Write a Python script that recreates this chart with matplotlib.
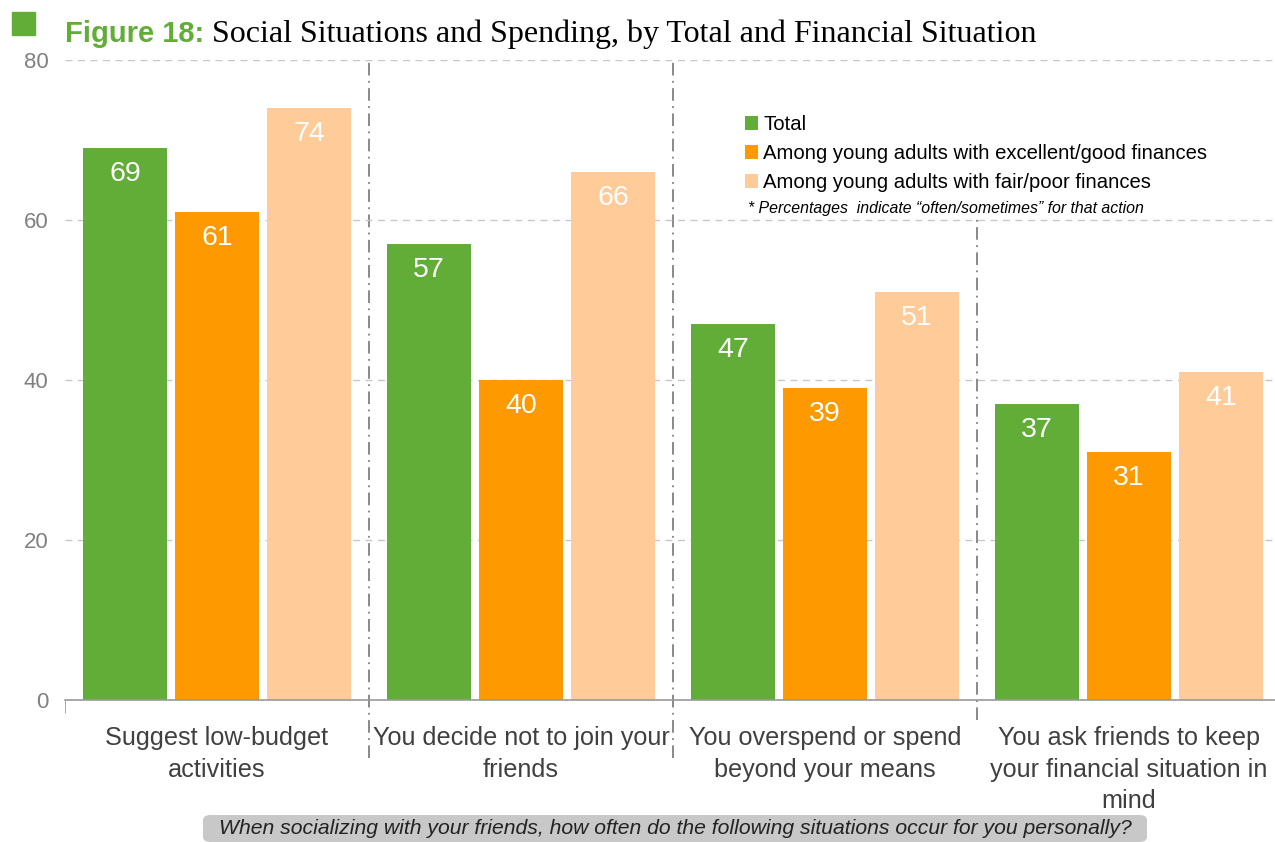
import matplotlib.pyplot as plt
import numpy as np
from matplotlib.patches import FancyBboxPatch

# data
categories = ["Suggest low-budget\nactivities",
              "You decide not to join your\nfriends",
              "You overspend or spend\nbeyond your means",
              "You ask friends to keep\nyour financial situation in\nmind"]
total = [69, 57, 47, 37]
good_fin = [61, 40, 39, 31]
poor_fin = [74, 66, 51, 41]
series_names = ["Total",
                "Among young adults with excellent/good finances",
                "Among young adults with fair/poor finances"]
colors = ["#62ad38", "#ff9900", "#ffcc99"]

fig = plt.figure(figsize=(12.75, 8.42), dpi=100)
W, H = 1275, 842
ax = fig.add_axes([65 / W, 1 - 700 / H, (1275 - 65) / W, 640 / H])

x = np.arange(len(categories))
bw = 0.277
off = 0.303
bars = []
for i, (vals, c) in enumerate(zip([total, good_fin, poor_fin], colors)):
    b = ax.bar(x + (i - 1) * off, vals, bw, color=c, label=series_names[i], zorder=2)
    bars.append(b)
    for xi, v in zip(x + (i - 1) * off, vals):
        ax.text(xi, v - 3.3, str(v), ha="center", va="center", color="white",
                fontsize=20.5, family="Liberation Sans", zorder=3)

ax.set_ylim(0, 80)
ax.set_xlim(-0.5, 3.48)
ax.set_yticks([0, 20, 40, 60, 80])
ax.yaxis.grid(True, color="#c8c8c8", linestyle=(0, (5, 4)), linewidth=1, zorder=0)
ax.tick_params(axis="y", length=0, labelsize=16, labelcolor="#808080", pad=12)
for lab in ax.get_yticklabels():
    lab.set_family("Liberation Sans")

ax.set_xticks(x)
ax.set_xticklabels(categories, fontsize=18.2, color="#404040", family="Liberation Sans",
                   linespacing=1.38)
ax.tick_params(axis="x", length=0, pad=19)
ax.set_xticks([-0.5], minor=True)
ax.tick_params(axis="x", which="minor", length=9, color="#999999", direction="out")

for s in ["top", "right", "left"]:
    ax.spines[s].set_visible(False)
ax.spines["bottom"].set_color("#999999")
ax.spines["bottom"].set_linewidth(1.2)

# dash-dot group separators
for xs, y0, y1 in [(0.5, -7.3, 80), (1.5, -7.3, 80), (2.5, -2.5, 60.2)]:
    ax.plot([xs, xs], [y0, y1], color="#808080", linestyle=(0, (7, 3, 1, 3)),
            linewidth=1.3, clip_on=False, zorder=1)

# legend
leg = fig.legend(handles=bars, labels=series_names, loc="upper left",
                 bbox_to_anchor=(745 / W, 1 - 115 / H), frameon=False,
                 prop={"family": "Liberation Sans", "size": 14.6},
                 handlelength=0.65, handleheight=0.65, handletextpad=0.25,
                 labelspacing=0.5, borderaxespad=0, borderpad=0)
fig.text(748 / W, 1 - 208 / H, "* Percentages  indicate \u201coften/sometimes\u201d for that action",
         fontsize=11.4, style="italic", family="Liberation Sans", va="center")

# title
fig.patches.append(plt.Rectangle((12 / W, 1 - 35 / H), 23 / W, 23 / H,
                                 transform=fig.transFigure, color="#62ad38"))
t1 = fig.text(65 / W, 1 - 42 / H, "Figure 18: ", fontsize=21, weight="bold",
              color="#62ad38", family="Liberation Sans", va="baseline")
fig.canvas.draw()
bb = t1.get_window_extent()
fig.text(bb.x1 / W, 1 - 42 / H, "Social Situations and Spending, by Total and Financial Situation",
         fontsize=23, color="black", family="Liberation Serif", va="baseline")

# bottom caption box
fig.patches.append(FancyBboxPatch((203 / W, 1 - 842 / H), (1147 - 203) / W, 27 / H,
                                  boxstyle="round,pad=0,rounding_size=0.006",
                                  transform=fig.transFigure, facecolor="#c8c8c8",
                                  edgecolor="none"))
fig.text(675 / W, 1 - 829 / H,
         "When socializing with your friends, how often do the following situations occur for you personally?",
         fontsize=15.2, style="italic", color="#222222", family="Liberation Sans",
         ha="center", va="center")

fig.savefig("out.png", dpi=100)
